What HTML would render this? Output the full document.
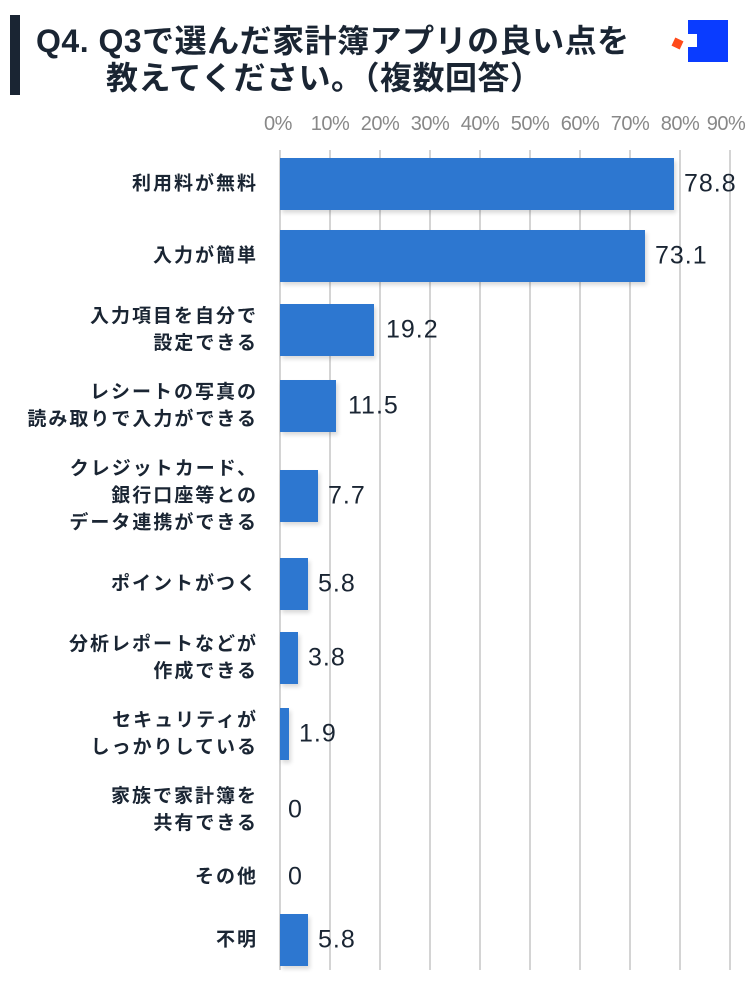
<!DOCTYPE html>
<html><head><meta charset="utf-8"><style>
body{margin:0;width:750px;height:1000px;background:#fff;position:relative;overflow:hidden;font-family:"Liberation Sans","Noto Sans CJK JP",sans-serif;}
.abs{position:absolute}
.t{color:#1a2533;font-weight:bold;font-size:32px;white-space:nowrap;line-height:36px;letter-spacing:0.5px}
.grid{position:absolute;top:150px;height:820px;width:2px;background:#d4d4d4}
.tick{position:absolute;top:113px;font-size:20px;color:#888;width:60px;text-align:center;margin-left:-30px;letter-spacing:-0.5px}
.bar{position:absolute;left:280px;height:52px;background:#2d77d0;box-shadow:2px 3px 4px rgba(0,0,0,.15)}
.lab{position:absolute;right:492px;text-align:right;font-size:19px;font-weight:bold;color:#1a2533;line-height:27px;white-space:nowrap;transform:translateY(-50%);letter-spacing:2px}
.val{position:absolute;font-size:25px;color:#1a2533;transform:translateY(-50%);letter-spacing:1px}
</style></head><body>
<div class="abs" style="left:10px;top:15px;width:10px;height:80px;background:#1a2533"></div>
<div class="abs t" style="left:36px;top:23px">Q4. Q3で選んだ家計簿アプリの良い点を</div>
<div class="abs t" style="left:106px;top:60px">教えてください。（複数回答）</div>
<div class="abs" style="left:688px;top:20px;width:40px;height:42px;background:#0a3cff"></div>
<div class="abs" style="left:688px;top:34px;width:9px;height:13px;background:#fff"></div>
<div class="abs" style="left:673px;top:39px;width:9px;height:9px;background:#ff4a1a;transform:rotate(25deg)"></div>
<div class="grid" style="left:279px"></div><div class="grid" style="left:329px"></div><div class="grid" style="left:379px"></div><div class="grid" style="left:429px"></div><div class="grid" style="left:479px"></div><div class="grid" style="left:529px"></div><div class="grid" style="left:579px"></div><div class="grid" style="left:629px"></div><div class="grid" style="left:679px"></div><div class="grid" style="left:729px"></div>
<div class="tick" style="left:278px">0%</div><div class="tick" style="left:330px">10%</div><div class="tick" style="left:380px">20%</div><div class="tick" style="left:430px">30%</div><div class="tick" style="left:480px">40%</div><div class="tick" style="left:530px">50%</div><div class="tick" style="left:580px">60%</div><div class="tick" style="left:630px">70%</div><div class="tick" style="left:680px">80%</div><div class="tick" style="left:726px">90%</div>

<div class="bar" style="top:158px;width:394px"></div><div class="val" style="left:684px;top:184px">78.8</div><div class="lab" style="top:184px">利用料が無料</div>
<div class="bar" style="top:230px;width:365px"></div><div class="val" style="left:655px;top:256px">73.1</div><div class="lab" style="top:256px">入力が簡単</div>
<div class="bar" style="top:304px;width:94px"></div><div class="val" style="left:386px;top:330px">19.2</div><div class="lab" style="top:330px">入力項目を自分で<br>設定できる</div>
<div class="bar" style="top:380px;width:56px"></div><div class="val" style="left:348px;top:406px">11.5</div><div class="lab" style="top:406px">レシートの写真の<br>読み取りで入力ができる</div>
<div class="bar" style="top:470px;width:38px"></div><div class="val" style="left:328px;top:496px">7.7</div><div class="lab" style="top:496px">クレジットカード、<br>銀行口座等との<br>データ連携ができる</div>
<div class="bar" style="top:558px;width:28px"></div><div class="val" style="left:318px;top:584px">5.8</div><div class="lab" style="top:584px">ポイントがつく</div>
<div class="bar" style="top:632px;width:18px"></div><div class="val" style="left:308px;top:658px">3.8</div><div class="lab" style="top:658px">分析レポートなどが<br>作成できる</div>
<div class="bar" style="top:708px;width:9px"></div><div class="val" style="left:299px;top:734px">1.9</div><div class="lab" style="top:734px">セキュリティが<br>しっかりしている</div>
<div class="val" style="left:288px;top:810px">0</div><div class="lab" style="top:810px">家族で家計簿を<br>共有できる</div>
<div class="val" style="left:288px;top:877px">0</div><div class="lab" style="top:877px">その他</div>
<div class="bar" style="top:914px;width:28px"></div><div class="val" style="left:318px;top:940px">5.8</div><div class="lab" style="top:940px">不明</div>
</body></html>
